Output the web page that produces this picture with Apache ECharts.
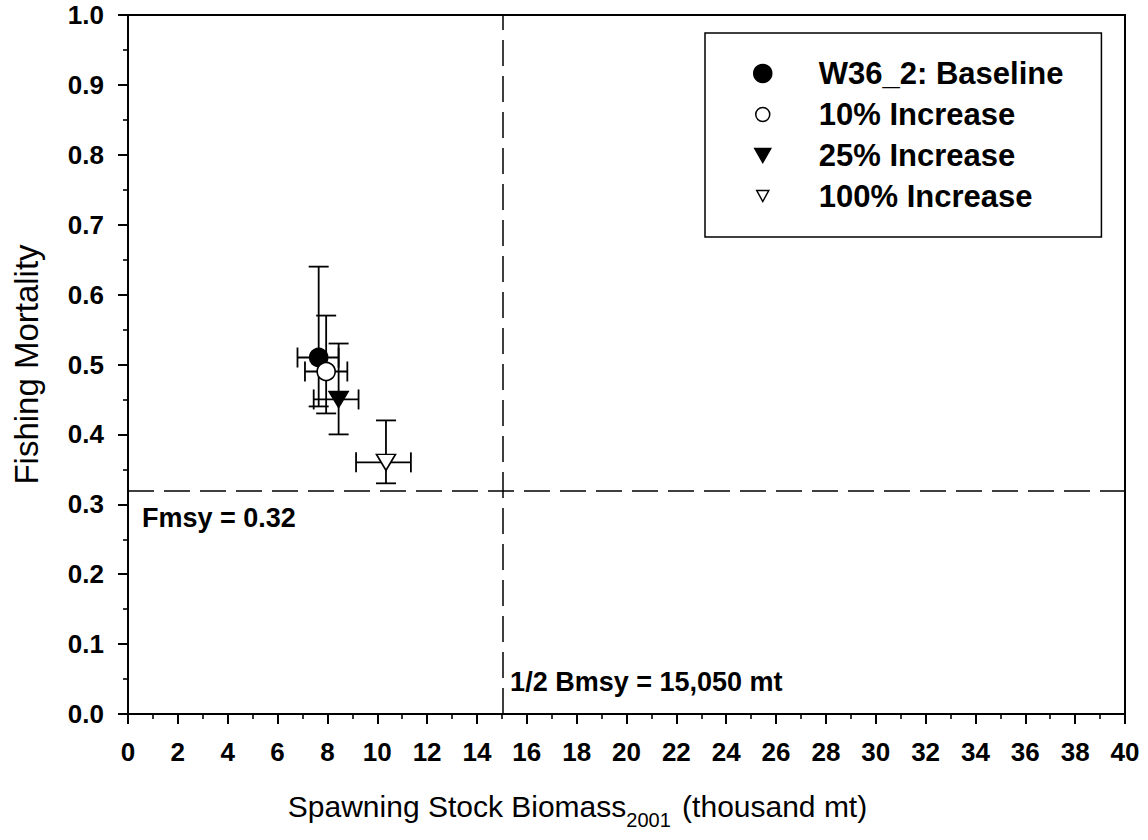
<!DOCTYPE html>
<html><head><meta charset="utf-8">
<script src="https://cdn.jsdelivr.net/npm/echarts@6/dist/echarts.min.js"></script>
<style>html,body{margin:0;padding:0;background:#fff}#c{width:1148px;height:840px}</style>
</head><body><div id="c"></div>
<script>
// ---- data ----
const seriesNames = ['W36_2: Baseline', '10% Increase', '25% Increase', '100% Increase'];
const ssbMid  = [7.65, 7.95, 8.45, 10.35];
const ssbLow  = [6.8, 7.1, 7.45, 9.15];
const ssbHigh = [8.45, 8.8, 9.25, 11.35];
const fMid    = [0.51, 0.49, 0.45, 0.36];
const fLow    = [0.44, 0.43, 0.40, 0.33];
const fHigh   = [0.64, 0.57, 0.53, 0.42];
const fmsy = 0.32;
const halfBmsy = 15.05;
const fmsyLabel = 'Fmsy = 0.32';
const bmsyLabel = '1/2 Bmsy = 15,050 mt';

// ---- styles ----
const FONT = '"Liberation Sans", Arial, Helvetica, sans-serif';
const DOWN_TRI = 'path://M0,0 L20,0 L10,17 Z';
const symbols = ['circle', 'circle', DOWN_TRI, DOWN_TRI];
const fills = ['#000', '#fff', '#000', '#fff'];
// legend icons (smaller for the open / triangle markers, as in the original key)
const legendIcons = [
  'circle',
  'path://M0,0 M18,18 M16,9 A7,7 0 1,1 2,9 A7,7 0 1,1 16,9 Z',
  'path://M0,0 M18,18 M1,2 L17,2 L9,16 Z',
  'path://M0,0 M18,18 M3,3 L15,3 L9,14 Z'
];

const chart = echarts.init(document.getElementById('c'), null, {renderer: 'svg'});

const scatterSeries = seriesNames.map((name, i) => ({
  name: name,
  type: 'scatter',
  symbol: symbols[i],
  symbolSize: i < 2 ? 18 : [19, 16],
  z: 5,
  itemStyle: {color: fills[i], borderColor: '#000', borderWidth: 1.6, opacity: 1},
  emphasis: {disabled: true},
  data: [[ssbMid[i], fMid[i]]]
}));

const errData = seriesNames.map((n, i) => [ssbMid[i], fMid[i], ssbLow[i], ssbHigh[i], fLow[i], fHigh[i]]);

const errSeries = {
  type: 'custom',
  z: 3,
  silent: true,
  encode: {x: [0, 2, 3], y: [1, 4, 5]},
  data: errData,
  renderItem: function (params, api) {
    const c = api.coord([api.value(0), api.value(1)]);
    const xl = api.coord([api.value(2), api.value(1)])[0];
    const xh = api.coord([api.value(3), api.value(1)])[0];
    const yl = api.coord([api.value(0), api.value(4)])[1];
    const yh = api.coord([api.value(0), api.value(5)])[1];
    const h = 10;
    const st = {stroke: '#000', lineWidth: 1.8, fill: null};
    const ln = (x1, y1, x2, y2) => ({type: 'line', shape: {x1, y1, x2, y2}, style: st});
    return {type: 'group', children: [
      ln(xl, c[1], xh, c[1]),
      ln(xl, c[1] - h, xl, c[1] + h),
      ln(xh, c[1] - h, xh, c[1] + h),
      ln(c[0], yl, c[0], yh),
      ln(c[0] - h, yl, c[0] + h, yl),
      ln(c[0] - h, yh, c[0] + h, yh)
    ]};
  }
};

const refSeries = {
  type: 'line',
  data: [],
  silent: true,
  markLine: {
    silent: true,
    symbol: 'none',
    label: {show: false},
    lineStyle: {color: '#000', width: 1.5, type: [26, 10]},
    data: [{yAxis: fmsy}, {xAxis: halfBmsy}]
  }
};

const axisCommon = {
  axisLine: {show: true, onZero: false, lineStyle: {color: '#000', width: 2}},
  axisTick: {show: true, inside: false, length: 10, lineStyle: {color: '#000', width: 2}},
  minorTick: {show: true, splitNumber: 2, length: 5, lineStyle: {color: '#000', width: 1.6}},
  splitLine: {show: false},
  minorSplitLine: {show: false}
};

chart.setOption({
  animation: false,
  backgroundColor: '#fff',
  grid: {left: 128, right: 23, top: 15, bottom: 126, containLabel: false, show: true, borderColor: '#000', borderWidth: 2},
  xAxis: Object.assign({
    type: 'value', min: 0, max: 40, interval: 2,
    axisLabel: {color: '#000', fontFamily: FONT, fontWeight: 'bold', fontSize: 26, margin: 25},
    name: '{a|Spawning Stock Biomass}{s|2001}{a| (thousand mt)}',
    nameLocation: 'middle',
    nameGap: 82,
    nameTextStyle: {
      padding: [0, 98, 0, 0],
      rich: {
        a: {fontFamily: FONT, fontSize: 30, color: '#000', lineHeight: 34, verticalAlign: 'bottom', padding: [0, 0, 9, 0]},
        s: {fontFamily: FONT, fontSize: 20, color: '#000', lineHeight: 24, verticalAlign: 'bottom', padding: [0, 3, 0, 0]}
      }
    }
  }, axisCommon),
  yAxis: Object.assign({
    type: 'value', min: 0, max: 1, interval: 0.1,
    axisLabel: {color: '#000', fontFamily: FONT, fontWeight: 'bold', fontSize: 26, margin: 24,
      formatter: v => v.toFixed(1)},
    name: 'Fishing Mortality',
    nameLocation: 'middle',
    nameGap: 85,
    nameTextStyle: {fontFamily: FONT, fontSize: 33, color: '#000'}
  }, axisCommon),
  legend: {
    orient: 'vertical',
    left: 705, top: 33,
    itemWidth: 18, itemHeight: 18,
    itemGap: 10,
    padding: [25, 38, 25, 48],
    borderColor: '#000', borderWidth: 1.5,
    backgroundColor: '#fff',
    selectedMode: false,
    textStyle: {fontFamily: FONT, fontWeight: 'bold', fontSize: 31, color: '#000', lineHeight: 30, padding: [0, 0, 0, 42]},
    data: seriesNames.map((n, i) => ({
      name: n,
      icon: legendIcons[i],
      itemStyle: {color: fills[i], borderColor: '#000', borderWidth: 1.5}
    }))
  },
  series: [refSeries, errSeries].concat(scatterSeries)
});

// annotation labels anchored to the reference lines via the axis scales
const pF = chart.convertToPixel({gridIndex: 0}, [0, fmsy]);
const pB = chart.convertToPixel({gridIndex: 0}, [halfBmsy, 0]);
chart.setOption({
  graphic: [
    {type: 'text', left: pF[0] + 14, top: pF[1] + 14, silent: true,
      style: {text: fmsyLabel, fontFamily: FONT, fontWeight: 'bold', fontSize: 27, fill: '#000'}},
    {type: 'text', left: pB[0] + 7, top: pB[1] - 46, silent: true,
      style: {text: bmsyLabel, fontFamily: FONT, fontWeight: 'bold', fontSize: 27, fill: '#000'}}
  ]
});
</script>
</body></html>
